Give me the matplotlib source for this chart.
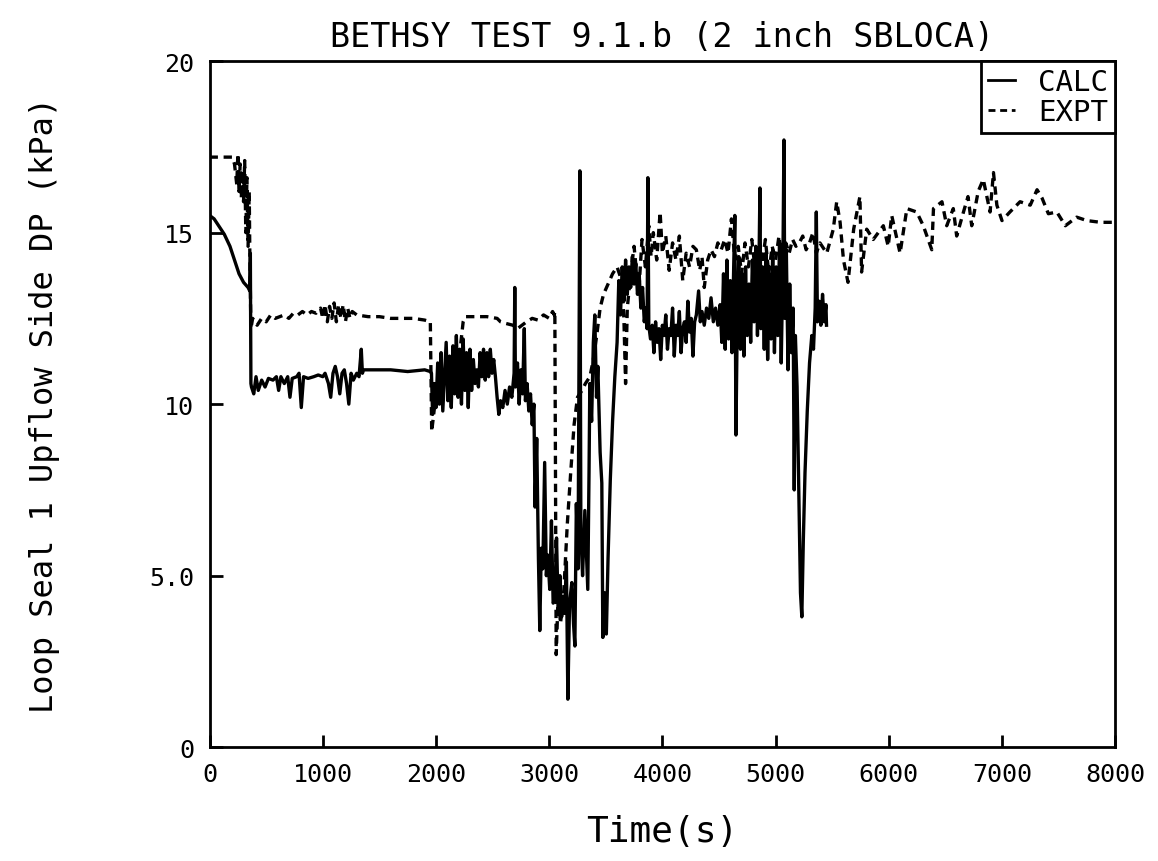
import matplotlib
matplotlib.use("Agg")
import matplotlib.pyplot as plt

# CALC (solid) - time (s) and loop seal DP (kPa)
calc_t = [0, 40, 80, 130, 180, 220, 260, 300, 340, 355, 360, 365,
          370, 390, 410, 430, 460, 490, 520, 560, 590, 610, 630, 660, 690, 710, 730,
          770, 790, 810, 830, 870, 920, 960, 1000, 1020, 1050, 1070, 1090, 1110, 1130,
          1150, 1170, 1190, 1210, 1230, 1250, 1270, 1300, 1320, 1340, 1350, 1360,
          1450, 1600, 1750, 1900, 1950,
          1960, 1970, 1985, 2000, 2015, 2030, 2045, 2060, 2075, 2090, 2105, 2120, 2135,
          2150, 2165, 2180, 2195, 2210, 2225, 2240, 2255, 2270, 2285, 2300, 2315, 2330,
          2345, 2360, 2375, 2390, 2405, 2420, 2435, 2450, 2465, 2480, 2495, 2510, 2525,
          2540, 2555, 2570, 2590, 2610, 2630, 2650, 2670, 2690, 2696, 2702, 2720, 2735,
          2750, 2765, 2780, 2790, 2805, 2820, 2835, 2850, 2865, 2875, 2890, 2905, 2917,
          2930, 2944, 2960, 2975, 2988, 3005, 3020, 3035, 3050, 3065, 3080, 3095, 3110,
          3125, 3138, 3152, 3165, 3180, 3200, 3215, 3227, 3240, 3255, 3271, 3280, 3295,
          3315, 3330, 3341, 3352, 3359, 3375, 3390, 3403, 3418, 3430, 3450, 3465, 3474,
          3490, 3505, 3520, 3540, 3560, 3580, 3600, 3615, 3630, 3645, 3660, 3675, 3690,
          3705, 3720, 3735, 3750, 3765, 3780, 3795, 3810, 3825, 3840, 3855, 3865, 3872,
          3880, 3895, 3910, 3925, 3940, 3955, 3970, 3985, 4000, 4015, 4030, 4045, 4060,
          4075, 4090, 4105, 4120, 4135, 4150, 4165, 4180, 4195, 4210, 4225, 4240, 4255,
          4270, 4285, 4300, 4320, 4335, 4350, 4370, 4390, 4410, 4430, 4450, 4470, 4490,
          4510, 4525, 4540, 4555, 4570, 4585, 4600, 4615, 4630, 4640, 4650, 4660, 4675,
          4690, 4705, 4720, 4735, 4750, 4765, 4780, 4795, 4810, 4825, 4840, 4855, 4862,
          4870, 4885, 4900, 4915, 4930, 4945, 4960, 4975, 4990, 5005, 5020, 5035, 5050,
          5065, 5074, 5082, 5095, 5110, 5125, 5140, 5155, 5165, 5175, 5190, 5205, 5220,
          5232, 5245, 5260, 5280, 5300, 5320, 5335, 5350, 5360, 5370, 5385, 5400, 5415,
          5430, 5445, 5450]
calc_v = [15.5, 15.4, 15.2, 14.95, 14.6, 14.2, 13.8, 13.55, 13.4, 13.3, 14.4, 10.6,
          10.5, 10.3, 10.8, 10.4, 10.7, 10.5, 10.75, 10.7, 10.8, 10.4, 10.8, 10.6, 10.8, 10.2, 10.75,
          10.8, 10.9, 9.9, 10.8, 10.75, 10.8, 10.85, 10.8, 10.9, 10.6, 10.2, 10.9, 11.1, 10.8,
          10.3, 10.9, 11.0, 10.6, 10.0, 10.9, 10.7, 10.9, 10.8, 11.6, 10.9, 11.0,
          11.0, 11.0, 10.95, 11.0, 10.95,
          10.9, 9.7, 10.6, 9.9, 11.2, 10.0, 11.5, 9.8, 10.8, 11.8, 10.1, 11.4, 9.9,
          11.7, 10.3, 12.0, 10.2, 11.6, 10.0, 11.9, 10.4, 11.5, 9.9, 11.6, 10.4, 11.3,
          10.6, 11.0, 10.5, 11.5, 10.8, 11.6, 10.7, 11.5, 10.8, 11.6, 10.9, 11.3, 10.8,
          10.2, 9.7, 10.1, 9.9, 10.4, 10.0, 10.5, 10.2, 10.9, 13.4, 10.5, 11.2, 10.0,
          11.0, 10.3, 12.2, 10.1, 10.6, 9.8, 10.3, 9.4, 10.0, 7.0, 9.0, 5.5, 3.4,
          5.8, 5.2, 8.3, 5.0, 5.6, 4.6, 6.6, 4.2, 4.3, 6.1, 3.9, 5.0, 3.8,
          4.4, 3.9, 5.4, 1.4, 4.2, 4.8, 3.6, 2.95, 7.1, 5.2, 16.8, 6.2, 5.0,
          6.9, 5.6, 4.6, 8.0, 10.6, 9.5, 11.8, 12.6, 10.2, 11.1, 8.6, 7.7, 3.2,
          4.5, 3.3, 5.5, 7.8, 9.5, 10.8, 11.8, 13.6, 12.6, 14.0, 13.0, 14.2, 13.2,
          14.0, 13.4, 14.3, 13.5, 14.1, 13.2, 13.8, 12.8, 13.4, 12.4, 12.8, 12.2, 16.6,
          12.3, 11.9, 12.3, 11.5, 12.4, 11.8, 12.2, 11.3, 12.3, 12.0, 12.6, 11.6, 12.2,
          12.0, 12.8, 11.4, 12.3, 12.0, 12.7, 11.5, 12.2, 12.4, 11.8, 13.0, 12.1, 12.5,
          11.4, 12.4, 12.6, 13.3, 12.4, 12.7, 12.3, 12.8, 12.5, 13.1, 12.4, 12.8, 12.3,
          12.9, 11.8, 13.8, 11.6, 14.2, 11.9, 13.6, 11.5, 14.0, 15.5, 9.1, 12.0, 14.3,
          11.6, 13.8, 11.4, 14.0, 12.0, 13.5, 11.8, 14.2, 12.4, 14.6, 12.0, 14.5, 16.3,
          12.2, 14.0, 11.6, 14.4, 11.3, 13.8, 11.9, 14.5, 11.5, 14.0, 12.0, 14.7, 11.2,
          14.2, 17.7, 12.5, 14.5, 11.0, 13.5, 11.5, 12.8, 7.5, 12.0, 10.5, 7.5, 4.5,
          3.8, 6.0, 8.0, 9.8, 11.2, 12.0, 11.6, 12.8, 15.6, 12.4, 13.0, 12.3, 13.2,
          12.4, 12.9, 12.3]

# EXPT (dashed)
expt_t = [0, 100, 200, 220, 240, 250, 260, 270, 280, 290, 300, 310, 320, 330, 340, 350, 355,
          365, 380, 420, 460, 500, 540, 580, 620, 660, 700, 740, 780, 820, 860, 900, 940,
          980, 1000, 1020, 1040, 1060, 1080, 1100, 1120, 1140, 1160, 1180, 1200, 1220,
          1240, 1260, 1300, 1400, 1500, 1600, 1700, 1800, 1900, 1950,
          1962, 1990, 2030, 2080, 2120, 2160, 2200, 2220, 2240, 2260, 2350, 2450, 2540,
          2570, 2620, 2680, 2720, 2760, 2800, 2850, 2900, 2950, 3000, 3030, 3045, 3050,
          3062, 3080, 3100, 3130, 3160, 3190, 3220, 3250, 3290, 3320, 3360, 3390, 3420,
          3450, 3480, 3520, 3560, 3600, 3640, 3660, 3675, 3690, 3720,
          3750, 3790, 3820, 3850, 3880, 3900, 3920, 3950, 3980, 4000, 4030, 4060, 4090,
          4120, 4150, 4180, 4210, 4240, 4270, 4300, 4330, 4350, 4370, 4400, 4430, 4460,
          4490, 4520, 4550, 4580, 4610, 4640, 4670, 4700, 4730, 4760, 4790, 4820, 4850,
          4880, 4910, 4940, 4970, 5000, 5030, 5060, 5090, 5120, 5150, 5180, 5210, 5240,
          5270, 5300, 5330, 5360, 5392, 5452, 5510, 5540, 5570, 5600, 5640, 5690, 5745,
          5760, 5805, 5863, 5952, 5995, 6026, 6100, 6160, 6247, 6305, 6380, 6395, 6470,
          6512, 6570, 6600, 6660, 6700, 6733, 6790, 6835, 6895, 6925, 6955, 7000, 7070,
          7160, 7250, 7310, 7355, 7410, 7485, 7560, 7660, 7750, 7870, 7985]
expt_v = [17.2, 17.2, 17.2, 17.0, 16.4, 17.3, 16.2, 17.0, 16.0, 16.8, 15.9, 17.1, 15.0, 16.6, 14.6, 16.2, 14.5,
          12.2, 12.5, 12.3, 12.5, 12.4, 12.6, 12.5, 12.55, 12.6, 12.5, 12.65, 12.6, 12.7, 12.6, 12.7, 12.65,
          12.8, 12.5, 12.9, 12.4, 12.85, 12.5, 12.95, 12.4, 12.9, 12.5, 12.9, 12.4, 12.8,
          12.5, 12.7, 12.6, 12.55, 12.55, 12.5, 12.5, 12.5, 12.45, 12.4,
          9.2, 10.0, 10.6, 10.8, 10.5, 10.6, 11.0, 11.8, 12.4, 12.55, 12.55, 12.55, 12.5,
          12.4, 12.35, 12.3, 12.2, 12.3, 12.4, 12.5, 12.45, 12.6, 12.5, 12.7, 12.6, 12.7,
          2.7, 4.5, 3.6, 4.6, 6.5, 8.0, 9.4, 10.2, 10.4, 10.6, 10.8, 11.3, 12.0,
          12.8, 13.2, 13.5, 13.8, 14.0, 13.6, 12.5, 10.6, 12.8, 13.8,
          14.6, 13.2, 14.8, 14.0, 15.2, 14.3, 15.0, 14.2, 15.6, 14.4, 14.9, 13.9, 14.7,
          14.2, 14.9, 13.6, 14.4, 14.0, 14.6, 14.5, 13.9, 14.3, 13.4, 14.2, 14.5, 14.3,
          14.7, 14.5, 14.8, 14.4, 15.4, 14.2, 14.6, 13.8, 14.7, 14.0, 14.8, 13.9, 14.5,
          14.1, 14.8, 13.8, 14.6, 14.2, 14.9, 14.1, 14.7, 14.4, 14.8, 14.6, 14.7, 14.9,
          14.5, 14.7, 15.0, 14.4, 14.7, 14.4, 15.1, 15.9, 15.3, 14.2, 13.55, 15.1, 16.05,
          13.85, 15.1, 14.8, 15.2, 14.6, 15.5, 14.4, 15.7, 15.6, 15.2, 14.5, 15.7, 15.9,
          15.2, 15.7, 14.9, 15.6, 16.05, 15.2, 16.2, 16.55, 15.6, 16.75, 15.8, 15.35, 15.6,
          15.9, 15.8, 16.25, 16.0, 15.55, 15.6, 15.2, 15.45, 15.35, 15.3, 15.3]

x_ticks = [0, 1000, 2000, 3000, 4000, 5000, 6000, 7000, 8000]
y_ticks = [0, 5, 10, 15, 20]
y_tick_labels = ['0', '5.0', '10', '15', '20']

plt.rcParams['font.family'] = ['DejaVu Sans Mono']

fig = plt.figure(figsize=(11.58, 8.62), dpi=100)
ax = fig.add_axes([0.181, 0.132, 0.782, 0.796])

ax.plot(calc_t, calc_v, color='black', lw=2.4, label='CALC')
ax.plot(expt_t, expt_v, color='black', lw=2.4, dashes=(2.5, 1.7), label='EXPT')

ax.set_xlim(0, 8000)
ax.set_ylim(0, 20)
ax.set_xticks(x_ticks)
ax.set_yticks(y_ticks)
ax.set_yticklabels(y_tick_labels)
ax.tick_params(direction='in', length=9, width=2, labelsize=18, pad=11)
for s in ax.spines.values():
    s.set_linewidth(2)

ax.set_title('BETHSY TEST 9.1.b (2 inch SBLOCA)', fontsize=24, pad=11)
ax.set_xlabel('Time(s)', fontsize=26, labelpad=20)
ax.set_ylabel('Loop Seal 1 Upflow Side DP (kPa)', fontsize=23, labelpad=64)

leg = ax.legend(loc='upper right', fontsize=21, frameon=True, fancybox=False,
                borderaxespad=0, handlelength=0.9, labelspacing=0.05,
                handletextpad=0.8, borderpad=0.25)
leg.get_frame().set_edgecolor('black')
leg.get_frame().set_linewidth(2)
leg.get_frame().set_alpha(1)
for line in leg.get_lines():
    line.set_linewidth(2)

fig.savefig('out.png', dpi=100)
